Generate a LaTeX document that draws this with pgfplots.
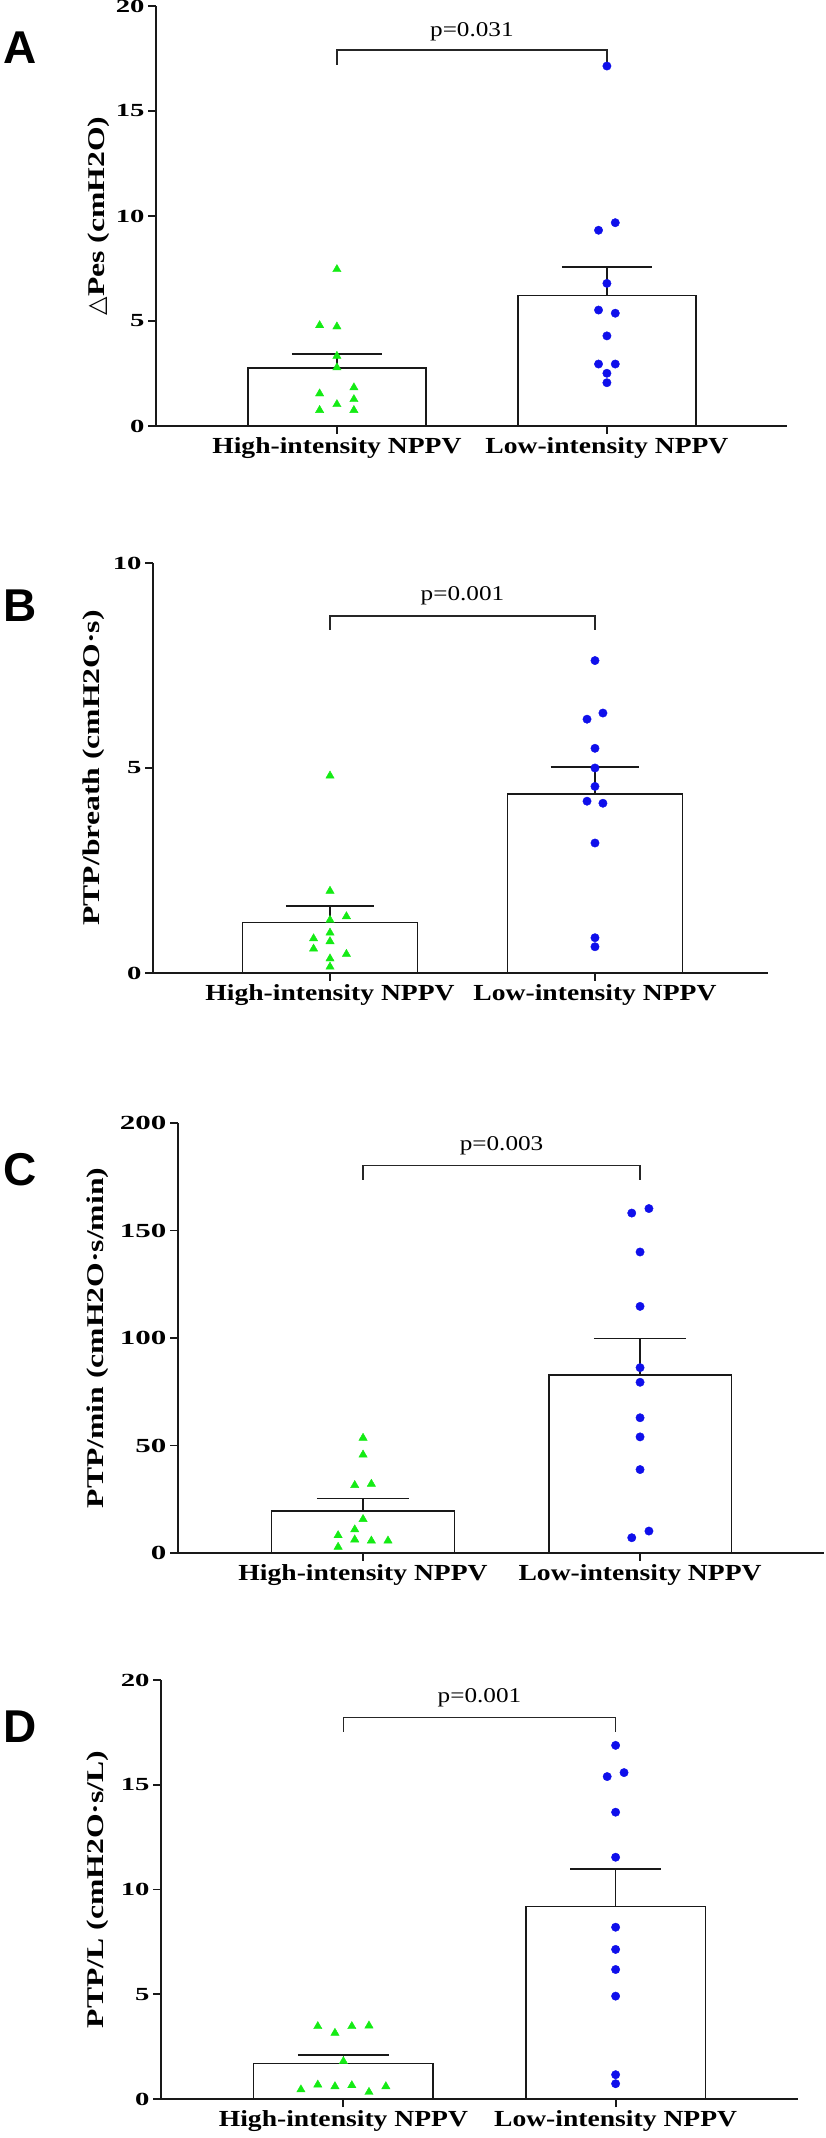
\documentclass[border=0pt]{standalone}
\usepackage{pgfplots}
\pgfplotsset{compat=1.18}
\usepackage{fontspec}
\setmainfont{Liberation Serif}
\newfontfamily\wideserif[FakeStretch=1.2]{Liberation Serif}
\newfontfamily\labserif[FakeStretch=1.32]{Liberation Serif}
\newfontfamily\tickserif[FakeStretch=1.55]{Liberation Serif}
\newfontfamily\symfont{DejaVu Sans}
\newfontfamily\lettersans{Liberation Sans}
\newcommand\tickfont{\fontsize{18.5}{20}\selectfont\tickserif\bfseries}
\newcommand\tickfontC{\fontsize{20}{22}\selectfont\tickserif\bfseries}
\newcommand\catfont{\fontsize{23}{26}\selectfont\wideserif\bfseries}
\newcommand\labfont{\fontsize{24}{27}\selectfont\labserif\bfseries}
\newcommand\pfont{\fontsize{21}{24}\selectfont\wideserif}
\newcommand\letterfont{\fontsize{46}{50}\selectfont\lettersans\bfseries}
\definecolor{ptgreen}{RGB}{20,235,20}
\definecolor{ptblue}{RGB}{15,15,235}
\pgfplotsset{
 panel/.style={
  scale only axis, clip=false,
  axis x line=bottom, axis y line=left,
  axis line style={-, line width=1.8pt, black!90},
  tick align=outside, major tick length=8pt,
  tick style={line width=1.8pt, black!90},
  xtick={0,1}, xticklabels={High-intensity NPPV, Low-intensity NPPV},
  ymin=0,
  /pgf/number format/assume math mode=true,
  yticklabel style={font=\tickfont},
  xticklabel style={font=\catfont},
  ylabel style={font=\labfont, anchor=center},
 },
 barplot/.style={ybar, bar width=0.66, fill=white, draw=black!90, line width=1.7pt},
 errline/.style={black!90, line width=1.7pt},
 bracket/.style={black!85, line width=1.4pt},
 greenpts/.style={only marks, mark=triangle*, mark size=4.8pt, color=ptgreen, mark options={draw=ptgreen, fill=ptgreen}},
 bluepts/.style={only marks, mark=*, mark size=4.2pt, color=ptblue, mark options={draw=ptblue, fill=ptblue}},
}
\begin{document}
\begin{tikzpicture}
\path[use as bounding box] (0,0) rectangle (826pt,2138pt);

% ---------- Panel A ----------
\begin{axis}[panel, at={(156pt,1712pt)}, anchor=south west,
  width=631pt, height=420pt, xmin=-0.67, xmax=1.667, ymax=20,
  ytick={0,5,10,15,20}, ylabel={{\symfont\mdseries △}Pes (cmH2O)},
  ylabel style={at={(axis description cs:-0.09,0.5)}}]
\addplot[barplot] coordinates {(0,2.75) (1,6.22)};
\addplot[errline] coordinates {(0,2.75) (0,3.43)};
\addplot[errline] coordinates {(-0.167,3.43) (0.167,3.43)};
\addplot[errline] coordinates {(1,6.22) (1,7.57)};
\addplot[errline] coordinates {(0.833,7.57) (1.167,7.57)};
\addplot[bracket] coordinates {(0,17.19) (0,17.9) (1,17.9) (1,17.19)};
\addplot[greenpts] coordinates {(0,7.46) (-0.064,4.79) (0,4.73) (0,3.33) (0,2.78) (0.063,1.83) (-0.064,1.54) (0.063,1.27) (0,1.03) (-0.064,0.75) (0.063,0.75)};
\addplot[bluepts] coordinates {(1,17.14) (1.031,9.68) (0.969,9.32) (1,6.79) (0.969,5.52) (1.031,5.37) (1,4.29) (0.969,2.95) (1.031,2.95) (1,2.51) (1,2.06)};
\node[font=\pfont] at (axis cs:0.5,18.76) {p=0.031};
\end{axis}

% ---------- Panel B ----------
\begin{axis}[panel, at={(153pt,1165pt)}, anchor=south west,
  width=615pt, height=410pt, xmin=-0.668, xmax=1.653, ymax=10,
  ytick={0,5,10}, ylabel={PTP/breath (cmH2O·s)},
  ylabel style={at={(axis description cs:-0.096,0.5)}}]
\addplot[barplot] coordinates {(0,1.23) (1,4.36)};
\addplot[errline] coordinates {(0,1.23) (0,1.64)};
\addplot[errline] coordinates {(-0.167,1.64) (0.167,1.64)};
\addplot[errline] coordinates {(1,4.36) (1,5.03)};
\addplot[errline] coordinates {(0.833,5.03) (1.167,5.03)};
\addplot[bracket] coordinates {(0,8.37) (0,8.71) (1,8.71) (1,8.37)};
\addplot[greenpts] coordinates {(0,4.81) (0,2.0) (0.062,1.38) (0,1.29) (0,0.98) (-0.062,0.84) (0,0.77) (-0.062,0.59) (0.062,0.46) (0,0.35) (0,0.15)};
\addplot[bluepts] coordinates {(1,7.62) (1.03,6.34) (0.97,6.19) (1,5.48) (1,5.0) (1,4.55) (0.97,4.19) (1.03,4.14) (1,3.17) (1,0.86) (1,0.64)};
\node[font=\pfont] at (axis cs:0.5,9.19) {p=0.001};
\end{axis}

% ---------- Panel C ----------
\begin{axis}[panel, at={(178pt,585pt)}, anchor=south west,
  width=646pt, height=430pt, xmin=-0.668, xmax=1.664, ymax=200,
  ytick={0,50,100,150,200}, ylabel={PTP/min (cmH2O·s/min)},
  yticklabel style={font=\tickfontC},
  ylabel style={at={(axis description cs:-0.124,0.5)}}]
\addplot[barplot] coordinates {(0,19.5) (1,82.8)};
\addplot[errline] coordinates {(0,19.5) (0,25.3)};
\addplot[errline] coordinates {(-0.167,25.3) (0.167,25.3)};
\addplot[errline] coordinates {(1,82.8) (1,99.7)};
\addplot[errline] coordinates {(0.833,99.7) (1.167,99.7)};
\addplot[bracket] coordinates {(0,173.6) (0,180.3) (1,180.3) (1,173.6)};
\addplot[greenpts] coordinates {(0,53.5) (0,45.7) (-0.03,31.5) (0.03,32.1) (0,15.7) (-0.03,10.9) (-0.09,8.2) (-0.03,6.2) (0.03,5.7) (0.09,5.7) (-0.09,2.8)};
\addplot[bluepts] coordinates {(1.032,160.2) (0.97,158.1) (1,140.0) (1,114.7) (1,86.2) (1,79.4) (1,62.9) (1,54.0) (1,38.8) (1.032,10.2) (0.97,7.1)};
\node[font=\pfont] at (axis cs:0.5,189.6) {p=0.003};
\end{axis}

% ---------- Panel D ----------
\begin{axis}[panel, at={(161pt,39pt)}, anchor=south west,
  width=637pt, height=419pt, xmin=-0.67, xmax=1.67, ymax=20,
  ytick={0,5,10,15,20}, ylabel={PTP/L (cmH2O·s/L)},
  ylabel style={at={(axis description cs:-0.099,0.5)}}]
\addplot[barplot] coordinates {(0,1.69) (1,9.19)};
\addplot[errline] coordinates {(0,1.69) (0,2.11)};
\addplot[errline] coordinates {(-0.167,2.11) (0.167,2.11)};
\addplot[errline] coordinates {(1,9.19) (1,10.97)};
\addplot[errline] coordinates {(0.833,10.97) (1.167,10.97)};
\addplot[bracket] coordinates {(0,17.54) (0,18.2) (1,18.2) (1,17.54)};
\addplot[greenpts] coordinates {(-0.094,3.47) (0.031,3.47) (0.094,3.50) (-0.031,3.15) (0,1.80) (-0.094,0.68) (-0.031,0.60) (0.031,0.65) (0.156,0.60) (-0.156,0.45) (0.094,0.33)};
\addplot[bluepts] coordinates {(1,16.88) (1.031,15.58) (0.969,15.39) (1,13.69) (1,11.54) (1,8.20) (1,7.14) (1,6.18) (1,4.91) (1,1.16) (1,0.73)};
\node[font=\pfont] at (axis cs:0.5,19.13) {p=0.001};
\end{axis}

\node[font=\letterfont] at (20pt,2090pt) {A};
\node[font=\letterfont] at (20pt,1532pt) {B};
\node[font=\letterfont] at (20pt,968pt) {C};
\node[font=\letterfont] at (20pt,411pt) {D};
\end{tikzpicture}
\end{document}
